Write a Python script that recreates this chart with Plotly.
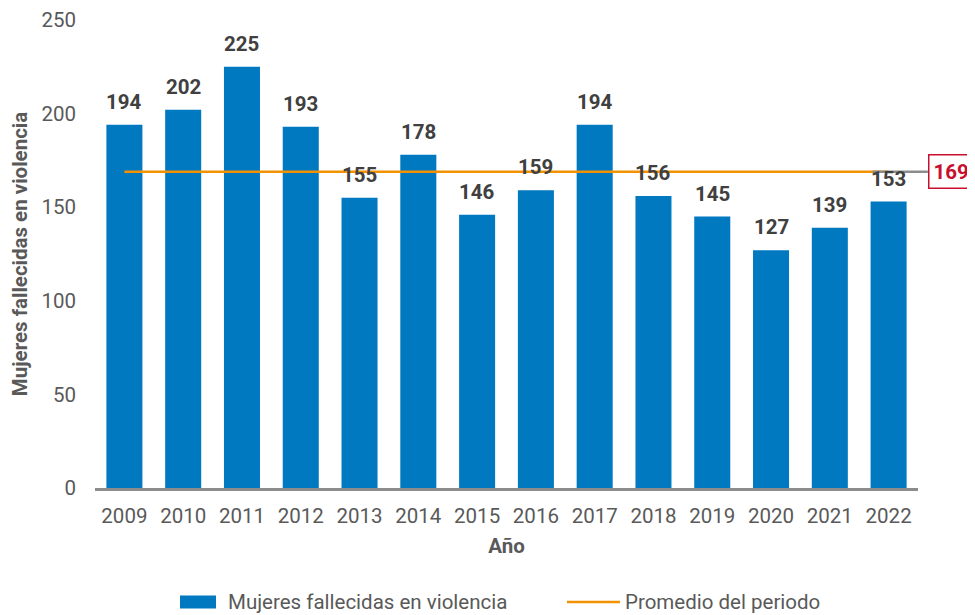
import plotly.graph_objects as go

years = ["2009", "2010", "2011", "2012", "2013", "2014", "2015", "2016", "2017", "2018", "2019", "2020", "2021", "2022"]
deaths = [194, 202, 225, 193, 155, 178, 146, 159, 194, 156, 145, 127, 139, 153]
average = 169
y_ticks = [0, 50, 100, 150, 200, 250]
series_names = ["Mujeres fallecidas en violencia", "Promedio del periodo"]

BLUE = "#0079C1"
ORANGE = "#F39200"
RED = "#C8102E"
FONT = "Roboto"
FS = 20.5

idx = list(range(len(years)))

fig = go.Figure()
fig.add_trace(go.Bar(
    x=idx, y=deaths, name=series_names[0],
    marker=dict(color=BLUE, line=dict(width=0)), width=0.613,
))
fig.add_trace(go.Scatter(
    x=[idx[0], idx[-1]], y=[average, average], mode="lines",
    name=series_names[1], line=dict(color=ORANGE, width=2.5),
))

# gray leader line to average label
fig.add_shape(type="line", xref="paper", yref="y", x0=0.945, x1=1.012,
              y0=average, y1=average, line=dict(color="#8C8C8C", width=2.5), layer="above")

for i, v in zip(idx, deaths):
    fig.add_annotation(x=i, y=v, text=f"<b>{v}</b>", showarrow=False,
                       yanchor="bottom", yshift=9,
                       font=dict(family=FONT, size=FS, color="#404040"))

fig.add_annotation(xref="paper", yref="y", x=1.012, y=average, xanchor="left",
                   text=f"<b>{average}</b>", showarrow=False,
                   font=dict(family=FONT, size=FS, color=RED),
                   bordercolor=RED, borderwidth=1.5, borderpad=4, bgcolor="white")

# custom legend
ly = -0.2436
fig.add_shape(type="rect", xref="paper", yref="paper",
              x0=(180 - 95) / 823, x1=(216 - 95) / 823, y0=ly - 6.5 / 468, y1=ly + 6.5 / 468,
              fillcolor=BLUE, line=dict(width=0))
fig.add_annotation(xref="paper", yref="paper", x=(226 - 95) / 823, y=ly, xanchor="left",
                   yanchor="middle", text=series_names[0], showarrow=False,
                   font=dict(family=FONT, size=FS, color="#595959"))
fig.add_shape(type="line", xref="paper", yref="paper",
              x0=(567 - 95) / 823, x1=(620 - 95) / 823, y0=ly, y1=ly,
              line=dict(color=ORANGE, width=2.5))
fig.add_annotation(xref="paper", yref="paper", x=(623 - 95) / 823, y=ly, xanchor="left",
                   yanchor="middle", text=series_names[1], showarrow=False,
                   font=dict(family=FONT, size=FS, color="#595959"))

fig.update_layout(
    width=975, height=615,
    margin=dict(l=87, r=65, t=12, b=135, autoexpand=False),
    plot_bgcolor="white", paper_bgcolor="white",
    font=dict(family=FONT, size=FS, color="#595959"),
    showlegend=False,
    xaxis=dict(
        range=[-0.5, 13.5], tickvals=idx, ticktext=years,
        showline=True, linecolor="#8C8C8C", linewidth=2.5,
        showgrid=False, zeroline=False, ticks="", ticklabelstandoff=8,
        tickfont=dict(size=FS, color="#595959"),
        title=dict(text="<b>Año</b>", font=dict(size=FS, color="#595959"), standoff=12),
    ),
    yaxis=dict(
        range=[0, 250], tickvals=y_ticks, showgrid=False, zeroline=False,
        showline=False, ticks="", ticklabelstandoff=18,
        tickfont=dict(size=FS, color="#595959"),
        title=dict(text="<b>Mujeres fallecidas en violencia</b>",
                   font=dict(size=FS, color="#595959"), standoff=9),
    ),
)

fig.write_html("out.html")
